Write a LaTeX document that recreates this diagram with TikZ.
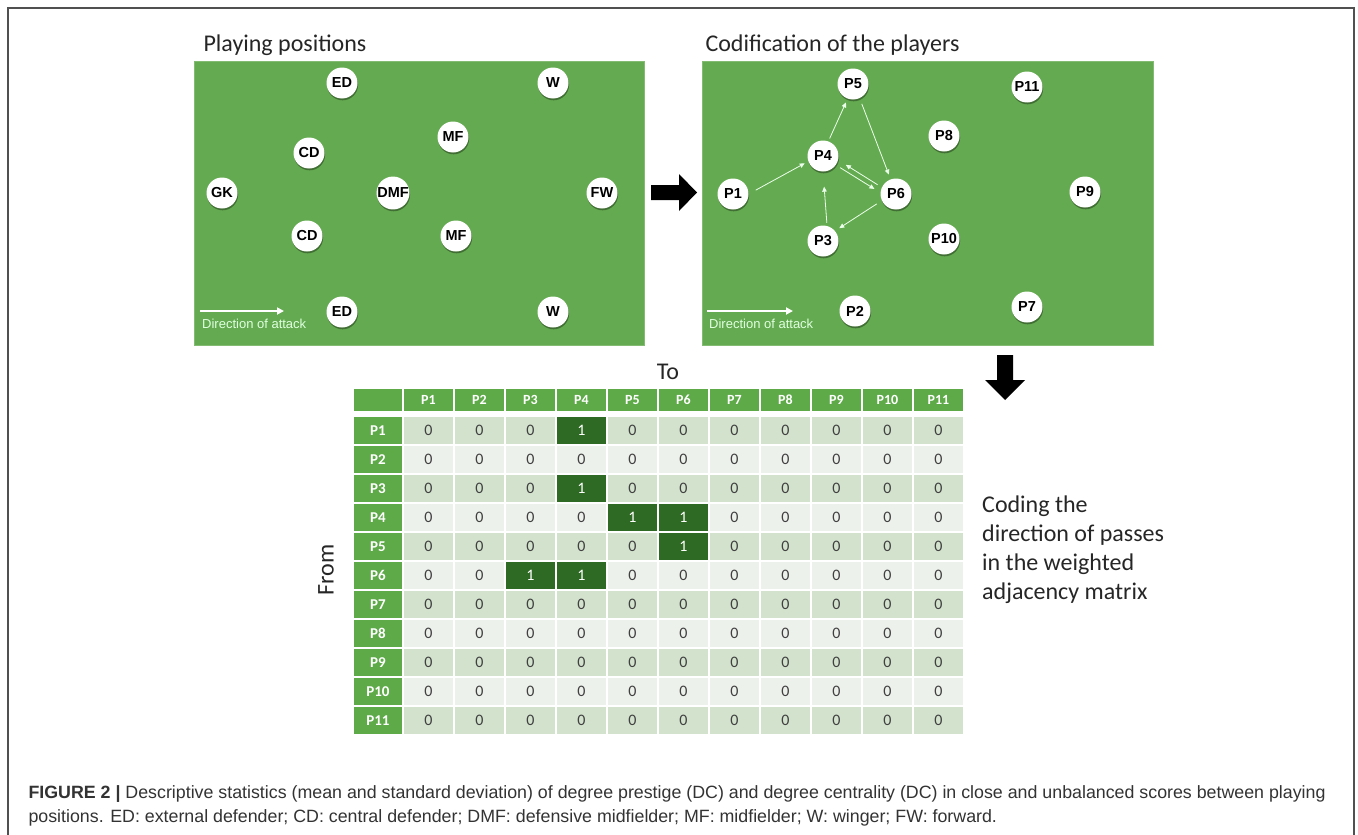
\documentclass[tikz,border=0pt]{standalone}
\usepackage{fontspec}
\setmainfont{Carlito}
\newfontfamily\arial{Liberation Sans}
\usetikzlibrary{shadows,arrows.meta}
\definecolor{pitch}{HTML}{64AA50}
\definecolor{hdr}{HTML}{5EAA48}
\definecolor{rowA}{HTML}{D3E2CD}
\definecolor{rowB}{HTML}{EDF1EB}
\definecolor{darkcell}{HTML}{2E6A23}
\definecolor{framec}{HTML}{505050}
\definecolor{zerotxt}{HTML}{404040}
\begin{document}
\begin{tikzpicture}[x=1pt,y=-1pt,
  player/.style={circle, fill=white, minimum size=31pt, inner sep=0pt,
    font=\arial\bfseries\fontsize{14.5}{14.5}\selectfont, text=black,
    drop shadow={shadow xshift=0.6pt, shadow yshift=-1.8pt, opacity=0.35, fill=black}},
  pitchbox/.style={fill=pitch, draw=pitch!80!white, line width=0.6pt},
  title/.style={anchor=base west, font=\fontsize{24}{24}\selectfont, text=black!85},
  pass/.style={draw=white!92!green, line width=0.8pt, -{Triangle[length=5pt,width=4.5pt]}},
  attack/.style={draw=white, line width=2pt, -{Triangle[length=7pt,width=7pt]}},
  attacktxt/.style={font=\arial\fontsize{13}{13}\selectfont, text=white!88!green},
  hcell/.style={fill=hdr, draw=white, line width=1.5pt, minimum width=51pt, minimum height=24pt,
    inner sep=0pt, text=white, font=\bfseries\fontsize{14}{14}\selectfont},
  rhcell/.style={fill=hdr, draw=white, line width=1.5pt, minimum width=50pt, minimum height=29pt,
    inner sep=0pt, text=white, font=\bfseries\fontsize{15}{15}\selectfont},
  cellbase/.style={draw=white, line width=1.5pt, minimum width=51pt, minimum height=29pt,
    inner sep=0pt, font=\fontsize{16}{16}\selectfont},
  cellA/.style={cellbase, fill=rowA, text=zerotxt},
  cellB/.style={cellbase, fill=rowB, text=zerotxt},
  cellD/.style={cellbase, fill=darkcell, text=white},
  lbl/.style={font=\fontsize{24}{24}\selectfont, text=black!85},
  captext/.style={anchor=base west, font=\arial\fontsize{17.8}{17.8}\selectfont, text=black!80}
]
\useasboundingbox (0,0) rectangle (1358,835);
\fill[white] (0,0) rectangle (1358,835);
% outer frame
\draw[framec, line width=1.3pt] (8,835) -- (8,8) -- (1354,8) -- (1354,835);

% ---------- left pitch ----------
\node[title] (t1) at (200,51) {Playing positions};
\fill[pitchbox] (194,61) rectangle (644,345);
\node[player] (ed1) at (342,83) {ED};
\node[player] (w1) at (553,83) {W};
\node[player] (mf1) at (453,137) {MF};
\node[player] (cd1) at (309,153) {CD};
\node[player] (gk) at (222,193) {GK};
\node[player] (dmf) at (393,193) {DMF};
\node[player] (fw) at (602,193) {FW};
\node[player] (cd2) at (307,236) {CD};
\node[player] (mf2) at (456,236) {MF};
\node[player] (ed2) at (342,312) {ED};
\node[player] (w2) at (553,312) {W};
\coordinate (a1s) at (200,311);
\coordinate (a1e) at (284,311);
\draw[attack] (a1s) -- (a1e);
\node[attacktxt, anchor=west, inner sep=0pt] (a1t) at (202,324) {Direction of attack};

% big right arrow
\fill[black] (651,185) -- (679,185) -- (679,174) -- (697,192.5) -- (679,211) -- (679,200) -- (651,200) -- cycle;

% ---------- right pitch ----------
\node[title] (t2) at (702,51) {Codification of the players};
\fill[pitchbox] (702,61) rectangle (1153,345);
\node[player] (p5) at (853,84) {P5};
\node[player] (p11) at (1027,87) {P11};
\node[player] (p8) at (944,136) {P8};
\node[player] (p4) at (823,156) {P4};
\node[player] (p1) at (733,194) {P1};
\node[player] (p6) at (896,194) {P6};
\node[player] (p9) at (1085,192) {P9};
\node[player] (p3) at (823,241) {P3};
\node[player] (p10) at (944,239) {P10};
\node[player] (p2) at (855,311) {P2};
\node[player] (p7) at (1027,307) {P7};
% passes
\draw[pass, shorten <=8pt, shorten >=4pt] (p1.east) -- (p4.200);
\draw[pass, shorten <=3pt, shorten >=4pt] (p4.70) -- (p5.250);
\draw[pass, shorten <=6pt, shorten >=5pt] (p5.-65) -- (p6.110);
\draw[pass, shorten <=5pt, shorten >=7pt] (p4.-35) -- (p6.175);
\draw[pass, shorten <=5pt, shorten >=9pt] (p6.155) -- (p4.-15);
\draw[pass, shorten <=6pt, shorten >=5pt] (p6.205) -- (p3.40);
\draw[pass, shorten <=3pt, shorten >=15pt] (p3.75) -- (p4.-90);
\coordinate (a2s) at (707,311);
\coordinate (a2e) at (793,311);
\draw[attack] (a2s) -- (a2e);
\node[attacktxt, anchor=west, inner sep=0pt] (a2t) at (709,324) {Direction of attack};

% big down arrow
\fill[black] (997,355) -- (1013,355) -- (1013,380) -- (1025,380) -- (1005,400) -- (985,380) -- (997,380) -- cycle;

% ---------- matrix ----------
\node[lbl] (to) at (668,372) {To};
\node[lbl, rotate=90] (from) at (326,570) {From};
\node[hcell, minimum width=50pt] (corner) at (378,400) {};
\foreach \j in {1,...,11}{
  \node[hcell] (h-\j) at ({377.5+51*\j},400) {P\j};
}
\foreach \i in {1,...,11}{
  \node[rhcell] (r-\i) at (378,{401.5+29*\i}) {P\i};
  \foreach \j in {1,...,11}{
    \pgfmathtruncatemacro\k{\i*100+\j}
    \gdef\v{0}
    \foreach \d in {104,304,405,406,506,603,604}{\ifnum\k=\d\relax\gdef\v{1}\fi}
    \ifnum\v=1 \def\cs{cellD}\else\ifodd\i \def\cs{cellA}\else\def\cs{cellB}\fi\fi
    \node[\cs] (c-\i-\j) at ({377.5+51*\j},{401.5+29*\i}) {\v};
  }
}

% side text
\node[anchor=north west, align=left, font=\fontsize{24}{29}\selectfont, text=black!85, inner sep=0pt] (coding) at (982,496)
  {Coding the\\direction of passes\\in the weighted\\adjacency matrix};

% ---------- caption ----------
\node[captext] (cap1) at (25,798) {{\bfseries FIGURE 2} {\bfseries|} Descriptive statistics (mean and standard deviation) of degree prestige (DC) and degree centrality (DC) in close and unbalanced scores between playing};
\node[captext] (cap2) at (25,822) {positions. ED: external defender; CD: central defender; DMF: defensive midfielder; MF: midfielder; W: winger; FW: forward.};
\end{tikzpicture}
\end{document}
